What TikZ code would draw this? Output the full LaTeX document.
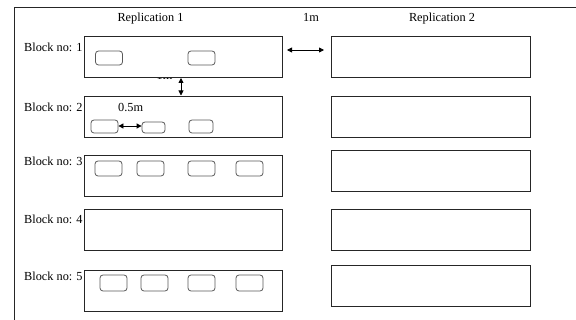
\documentclass[tikz,border=0pt]{standalone}
\usepackage{fontspec}
\setmainfont{Liberation Serif}
\usetikzlibrary{arrows.meta}
\begin{document}
\begin{tikzpicture}[x=1pt,y=-1pt,
  lbl/.style={inner sep=0pt,font=\fontsize{12.3}{14}\selectfont},
  blk/.style={draw=black!85,line width=0.8pt,fill=white,minimum height=41pt,inner sep=0pt},
  lblk/.style={blk,minimum width=198pt},
  rblk/.style={blk,minimum width=199pt},
  plot/.style={draw=black!65,line width=0.8pt,rounded corners=3pt,fill=white,inner sep=0pt,minimum width=27pt,minimum height=14pt},
  gap/.style={line width=0.8pt,{Triangle[length=5pt,width=5pt]}-{Triangle[length=5pt,width=5pt]}}]
\useasboundingbox (0,0) rectangle (576,320);
% outer frame
\draw[line width=0.9pt,black!85] (14,320) -- (14,7) -- (576,7);
% column headings
\node[lbl,anchor=base] (h1) at (150.5,21.5) {Replication 1};
\node[lbl,anchor=base] (hm) at (311,21.5) {1m};
\node[lbl,anchor=base] (h2) at (442,21.5) {Replication 2};
% spacing label partly covered by the first block
\node[lbl,anchor=base] (vm) at (164.5,79.5) {1m};
% blocks of replication 1
\node[lblk] (L1) at (183,57) {};
\node[lblk] (L2) at (183,116.5) {};
\node[lblk] (L3) at (183,176) {};
\node[lblk] (L4) at (183,229.5) {};
\node[lblk] (L5) at (183,290.5) {};
% blocks of replication 2
\node[rblk] (R1) at (430.5,57) {};
\node[rblk] (R2) at (430.5,116.5) {};
\node[rblk] (R3) at (430.5,171) {};
\node[rblk] (R4) at (430.5,229.5) {};
\node[rblk] (R5) at (430.5,285.5) {};
% block labels
\node[lbl,anchor=base west] (b1) at (24,52) {Block no: 1};
\node[lbl,anchor=base west] (b2) at (24,112) {Block no: 2};
\node[lbl,anchor=base west] (b3) at (24,166) {Block no: 3};
\node[lbl,anchor=base west] (b4) at (24,224) {Block no: 4};
\node[lbl,anchor=base west] (b5) at (24,281) {Block no: 5};
% plots
\node[plot] (p11) at (109,58) {};
\node[plot] (p12) at (201.5,58) {};
\node[plot,minimum height=13pt] (p21) at (104.5,126.5) {};
\node[plot,minimum width=23pt,minimum height=11pt] (p22) at (153.5,127.5) {};
\node[plot,minimum width=24pt,minimum height=13pt] (p23) at (201,126.5) {};
\node[plot,minimum height=15pt] (p31) at (108.5,168.5) {};
\node[plot,minimum height=15pt] (p32) at (150.5,168.5) {};
\node[plot,minimum height=15pt] (p33) at (201.5,168.5) {};
\node[plot,minimum height=15pt] (p34) at (249.5,168.5) {};
\node[plot,minimum height=16pt] (p51) at (113.5,283) {};
\node[plot,minimum height=16pt] (p52) at (154.5,283) {};
\node[plot,minimum height=16pt] (p53) at (201.5,283) {};
\node[plot,minimum height=16pt] (p54) at (249.5,283) {};
% spacing arrows
\node[lbl,anchor=base west] (hm2) at (118,112) {0.5m};
\coordinate (a1) at (287,50);
\coordinate (a2) at (324,50);
\draw[gap] (a1) -- (a2);
\coordinate (v1) at (181,78);
\coordinate (v2) at (181,95.5);
\draw[gap] (v1) -- (v2);
\draw[gap] (p21.east |- 0,126) -- (p22.west |- 0,126);
\end{tikzpicture}
\end{document}
